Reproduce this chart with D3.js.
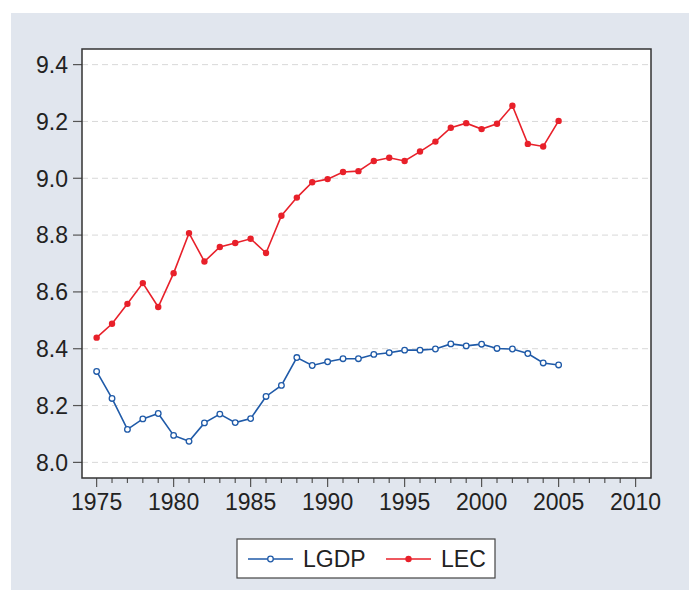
<!DOCTYPE html>
<html>
<head>
<meta charset="utf-8">
<title>LGDP and LEC</title>
<style>
  body { margin: 0; background: #fff; }
  #chart { display: block; }
  .tick-label { font-family: "Liberation Sans", Arial, sans-serif; font-size: 23px; fill: #222; }
  .legend-txt { font-family: "Liberation Sans", Arial, sans-serif; font-size: 23px; fill: #222; }
</style>
</head>
<body>
<svg id="chart"></svg>
<script src="https://d3js.org/d3.v7.min.js"></script>
<script>
var years = d3.range(1975, 2006);
var lgdp = [8.320, 8.225, 8.116, 8.153, 8.172, 8.095, 8.074, 8.139, 8.170, 8.140,
            8.154, 8.232, 8.271, 8.369, 8.341, 8.354, 8.365, 8.365, 8.380, 8.386,
            8.395, 8.395, 8.399, 8.417, 8.410, 8.416, 8.401, 8.399, 8.383, 8.350, 8.343];
var lec = [8.439, 8.488, 8.558, 8.631, 8.547, 8.666, 8.807, 8.707, 8.758, 8.772,
           8.787, 8.737, 8.868, 8.932, 8.986, 8.997, 9.022, 9.025, 9.061, 9.072,
           9.061, 9.094, 9.129, 9.178, 9.194, 9.173, 9.192, 9.255, 9.121, 9.112, 9.202];
var yTicks = [8.0, 8.2, 8.4, 8.6, 8.8, 9.0, 9.2, 9.4];
var xTicks = [1975, 1980, 1985, 1990, 1995, 2000, 2005, 2010];
var seriesNames = ["LGDP", "LEC"];

var W = 689, H = 590;
var plot = {left: 82, top: 49, right: 651, bottom: 478};
var blue = "#1f5aa8", red = "#e8202a";

var svg = d3.select("#chart").attr("width", W).attr("height", H);

// grey panel
svg.append("rect").attr("x", 11).attr("y", 13).attr("width", W - 11).attr("height", H - 13)
  .attr("fill", "#e1e6ee");

var x = d3.scaleLinear().domain([1974.05, 2011]).range([plot.left, plot.right]);
var y = d3.scaleLinear().domain([7.945, 9.455]).range([plot.bottom, plot.top]);

svg.append("rect").attr("x", plot.left).attr("y", plot.top)
  .attr("width", plot.right - plot.left).attr("height", plot.bottom - plot.top)
  .attr("fill", "#fff");

// gridlines
svg.append("g").selectAll("line").data(yTicks).enter().append("line")
  .attr("x1", plot.left).attr("x2", plot.right)
  .attr("y1", d => y(d)).attr("y2", d => y(d))
  .attr("stroke", "#d8d8d8").attr("stroke-width", 1).attr("stroke-dasharray", "6,4");

// y axis ticks + labels
svg.append("g").selectAll("line").data(yTicks).enter().append("line")
  .attr("x1", plot.left - 9).attr("x2", plot.left)
  .attr("y1", d => y(d)).attr("y2", d => y(d))
  .attr("stroke", "#555").attr("stroke-width", 1.2);
svg.append("g").selectAll("text").data(yTicks).enter().append("text")
  .attr("class", "tick-label")
  .attr("x", 68).attr("y", d => y(d)).attr("dy", "0.36em")
  .attr("text-anchor", "end")
  .text(d => d3.format(".1f")(d));

// x axis ticks: minor every year, major every 5
var allYears = d3.range(1975, 2011);
svg.append("g").selectAll("line").data(allYears).enter().append("line")
  .attr("x1", d => x(d)).attr("x2", d => x(d))
  .attr("y1", plot.bottom).attr("y2", d => plot.bottom + (d % 5 === 0 ? 9 : 5))
  .attr("stroke", "#555").attr("stroke-width", 1.2);
svg.append("g").selectAll("text").data(xTicks).enter().append("text")
  .attr("class", "tick-label")
  .attr("x", d => x(d)).attr("y", 510)
  .attr("text-anchor", "middle")
  .text(d => d);

// lines
var line = d3.line().x((d, i) => x(years[i])).y(d => y(d));
svg.append("path").datum(lgdp).attr("d", line)
  .attr("fill", "none").attr("stroke", blue).attr("stroke-width", 1.6);
svg.append("path").datum(lec).attr("d", line)
  .attr("fill", "none").attr("stroke", red).attr("stroke-width", 1.6);

svg.append("g").selectAll("circle").data(lgdp).enter().append("circle")
  .attr("cx", (d, i) => x(years[i])).attr("cy", d => y(d)).attr("r", 2.8)
  .attr("fill", "#fff").attr("stroke", blue).attr("stroke-width", 1.3);
svg.append("g").selectAll("circle").data(lec).enter().append("circle")
  .attr("cx", (d, i) => x(years[i])).attr("cy", d => y(d)).attr("r", 3.2)
  .attr("fill", red);

// frame
svg.append("rect").attr("x", plot.left).attr("y", plot.top)
  .attr("width", plot.right - plot.left).attr("height", plot.bottom - plot.top)
  .attr("fill", "none").attr("stroke", "#333").attr("stroke-width", 1.5);

// legend
var lg = svg.append("g");
lg.append("rect").attr("x", 237).attr("y", 539).attr("width", 258).attr("height", 39)
  .attr("fill", "#fff").attr("stroke", "#444").attr("stroke-width", 1.2);
var items = [
  {name: seriesNames[0], color: blue, x0: 248, tx: 303, open: true},
  {name: seriesNames[1], color: red, x0: 386, tx: 441, open: false}
];
items.forEach(function(it) {
  lg.append("line").attr("x1", it.x0).attr("x2", it.x0 + 45).attr("y1", 559).attr("y2", 559)
    .attr("stroke", it.color).attr("stroke-width", 1.6);
  lg.append("circle").attr("cx", it.x0 + 22.5).attr("cy", 559).attr("r", it.open ? 2.8 : 3.2)
    .attr("fill", it.open ? "#fff" : it.color)
    .attr("stroke", it.open ? it.color : "none").attr("stroke-width", 1.3);
  lg.append("text").attr("class", "legend-txt").attr("x", it.tx).attr("y", 559).attr("dy", "0.36em")
    .text(it.name);
});
</script>
</body>
</html>
